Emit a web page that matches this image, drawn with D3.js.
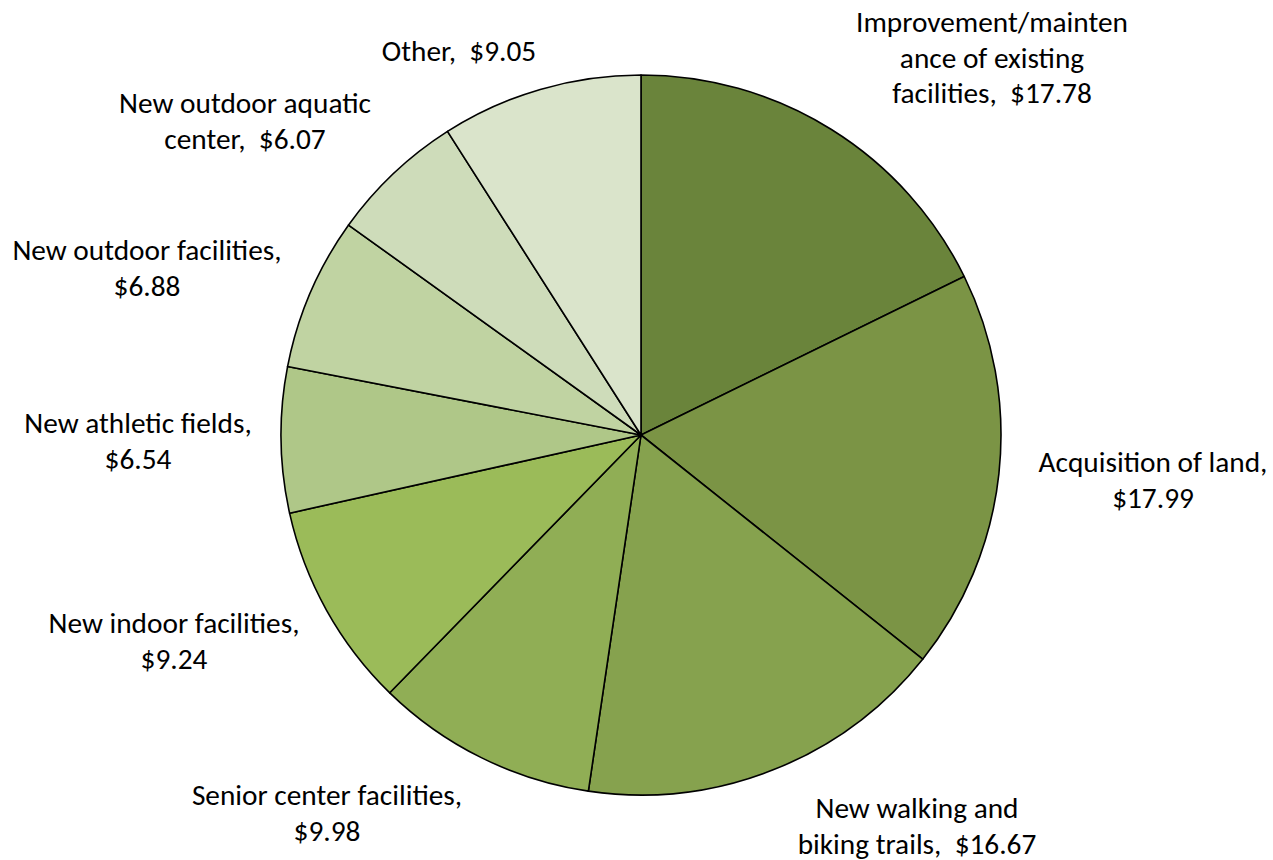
<!DOCTYPE html>
<html>
<head>
<meta charset="utf-8">
<script src="https://cdn.jsdelivr.net/npm/d3@7"></script>
<style>
  html, body { margin: 0; padding: 0; background: #ffffff; }
  svg { display: block; }
</style>
</head>
<body>
<svg id="chart" width="1273" height="860"></svg>
<script>
// ---- data ----
const categories = [
  "Improvement/maintenance of existing facilities",
  "Acquisition of land",
  "New walking and biking trails",
  "Senior center facilities",
  "New indoor facilities",
  "New athletic fields",
  "New outdoor facilities",
  "New outdoor aquatic center",
  "Other"
];
const values = [17.78, 17.99, 16.67, 9.98, 9.24, 6.54, 6.88, 6.07, 9.05];
// label text lines as shown on the chart (word-wrapped like the original)
const labelLines = [
  ["Improvement/mainten", "ance of existing", "facilities,  $17.78"],
  ["Acquisition of land,", "$17.99"],
  ["New walking and", "biking trails,  $16.67"],
  ["Senior center facilities,", "$9.98"],
  ["New indoor facilities,", "$9.24"],
  ["New athletic fields,", "$6.54"],
  ["New outdoor facilities,", "$6.88"],
  ["New outdoor aquatic", "center,  $6.07"],
  ["Other,  $9.05"]
];
const colors = ["#6a843b", "#7b9445", "#86a24e", "#90ae55", "#9bbb59", "#afc788", "#c0d3a2", "#cedcba", "#dae4cb"];

// ---- layout ----
const W = 1273, H = 860;
const cx = 641, cy = 435, R = 360;
// label block placement: [center x, first-line baseline y]
const labelLayout = [
  [992, 32], [1153, 472], [917, 818], [327, 805], [174, 633],
  [138, 433], [147, 260], [245, 113], [459, 61]
];
const lineHeight = 35.5;

const svg = d3.select("#chart");
const g = svg.append("g").attr("transform", `translate(${cx},${cy})`);

const pie = d3.pie().sort(null).value(d => d)
  .startAngle(0).endAngle(2 * Math.PI);
const arc = d3.arc().innerRadius(0).outerRadius(R);
const color = d3.scaleOrdinal().domain(d3.range(values.length)).range(colors);

g.selectAll("path.slice")
  .data(pie(values))
  .join("path")
  .attr("class", "slice")
  .attr("d", arc)
  .attr("fill", (d, i) => color(i))
  .attr("stroke", "#000")
  .attr("stroke-width", 1.6)
  .attr("stroke-linejoin", "round");

// font fitting: match original label width
const fontFamily = "Carlito, Calibri, Lato, 'Open Sans', sans-serif";
const probe = svg.append("text").attr("font-family", fontFamily).attr("font-size", 100)
  .text("Improvement/mainten");
const probeW = probe.node().getComputedTextLength();
probe.remove();
const fontSize = Math.min(30, 272 / probeW * 100);

const labels = svg.append("g").attr("font-family", fontFamily)
  .attr("font-size", fontSize).attr("fill", "#000").attr("text-anchor", "middle");

labelLines.forEach((lines, i) => {
  const [lx, ly] = labelLayout[i];
  const t = labels.append("text").attr("x", lx).attr("y", ly);
  lines.forEach((ln, j) => {
    t.append("tspan").attr("x", lx).attr("y", ly + j * lineHeight)
      .attr("xml:space", "preserve").style("white-space", "pre").text(ln);
  });
});
</script>
</body>
</html>
